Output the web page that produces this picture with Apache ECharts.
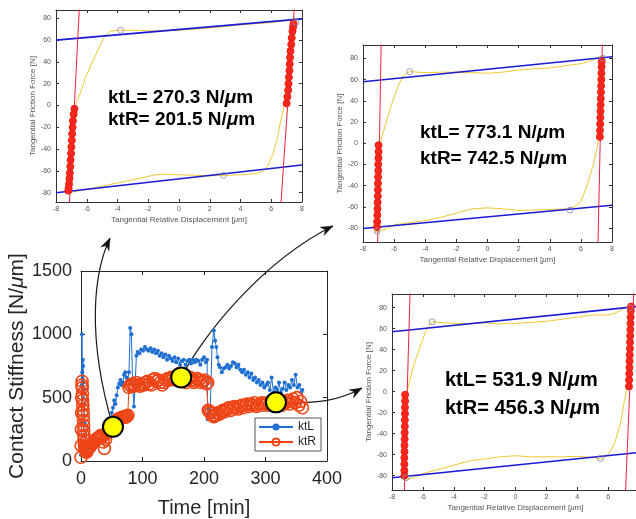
<!DOCTYPE html>
<html><head><meta charset="utf-8">
<script src="https://cdn.jsdelivr.net/npm/echarts@6/dist/echarts.min.js"></script>
<style>html,body{margin:0;padding:0;background:#fff}#c{width:636px;height:519px}</style>
</head><body><div id="c"></div>
<script>
// ---------------- DATA ----------------
const ktL = [[0,50],[0.5,300],[1,600],[1.5,1000],[2,700],[2.5,650],[3,800],[3.5,750],[4,620],[4.5,560],[5,450],[6,300],[7,200],[8,120],[10,100],[12,100],[16,120],[20,140],[24,160],[28,170],[32,180],[36,170],[40,190],[44,230],[48,300],[50,380],[52,420],[54,480],[56,450],[58,520],[60,580],[62,610],[64,640],[66,600],[68,620],[70,680],[72,700],[74,660],[76,640],[78,700],[80,1050],[82,1000],[84,600],[86,430],[88,600],[90,830],[92,860],[95,850],[98,880],[101,870],[104,900],[107,880],[110,870],[113,890],[116,860],[119,880],[122,850],[125,870],[128,830],[131,850],[134,820],[137,840],[140,800],[143,830],[146,810],[149,790],[152,820],[155,780],[158,810],[161,760],[164,790],[167,800],[170,760],[173,790],[176,800],[179,770],[182,800],[185,780],[188,800],[191,790],[194,760],[197,800],[200,820],[203,780],[205,800],[206,330],[208,420],[210,380],[213,900],[216,1030],[218,950],[220,900],[222,820],[224,760],[226,740],[229,700],[232,730],[235,740],[238,760],[241,730],[244,750],[247,780],[250,770],[253,740],[256,760],[259,720],[262,700],[265,720],[268,680],[271,700],[274,660],[277,690],[280,640],[283,660],[286,620],[289,640],[292,600],[295,620],[298,580],[301,600],[304,620],[307,560],[310,660],[313,540],[316,580],[319,560],[322,620],[325,540],[328,570],[331,620],[334,560],[337,600],[340,580],[343,640],[346,600],[349,680],[352,580],[355,600],[358,540],[360,560]];
const ktR = [[0,30],[0.3,120],[0.6,250],[0.9,380],[1.2,500],[1.5,600],[1.8,630],[2.1,580],[2.4,530],[2.7,480],[3,440],[3.3,400],[3.6,360],[3.9,320],[4.2,280],[4.5,240],[4.8,200],[5.1,170],[5.5,140],[6,120],[6.5,100],[7,90],[8,80],[9,70],[10,80],[11,90],[12,100],[14,110],[16,120],[18,140],[20,150],[22,160],[24,170],[26,175],[28,185],[30,190],[32,200],[34,190],[36,150],[38,100],[40,170],[42,220],[44,240],[46,250],[48,260],[50,270],[52,280],[54,290],[56,310],[58,320],[60,330],[62,335],[64,340],[66,340],[68,345],[70,350],[72,345],[74,350],[76,360],[78,580],[80,600],[82,590],[84,610],[86,590],[88,600],[90,620],[93,600],[96,590],[99,610],[102,600],[105,620],[108,630],[111,610],[114,600],[117,640],[120,650],[123,630],[126,640],[129,620],[132,600],[135,620],[138,640],[141,650],[144,640],[147,660],[150,650],[153,640],[156,670],[159,660],[162,650],[165,630],[168,640],[171,620],[174,650],[177,660],[180,640],[183,620],[186,630],[189,650],[192,640],[195,620],[198,630],[201,640],[204,610],[206,620],[207,400],[209,390],[211,380],[213,360],[216,350],[219,360],[222,380],[225,370],[228,390],[231,400],[234,390],[237,410],[240,420],[243,400],[246,420],[249,430],[252,420],[255,410],[258,430],[261,440],[264,420],[267,440],[270,450],[273,430],[276,450],[279,440],[282,460],[285,430],[288,440],[291,450],[294,460],[297,440],[300,450],[303,460],[306,440],[309,470],[312,450],[315,460],[318,470],[321,450],[324,460],[327,440],[330,470],[333,460],[336,480],[339,450],[342,470],[345,490],[348,460],[351,500],[354,440],[357,470],[360,420]];
const yellowPts = [[52,270],[163,660],[317,463]];
const mainXTicks = [0,100,200,300,400];
const mainYTicks = [0,500,1000,1500];
const insetYTicks = [-80,-60,-40,-20,0,20,40,60,80];

// inset 1 (ktL 270.3 / ktR 201.5)
const loop1 = [[-7.2,-80],[-6.8,-79],[-6,-77],[-5,-74],[-4,-71],[-3,-68],[-2,-65],[-1.5,-63.5],[-1,-63],[0,-63.5],[1,-64],[2,-64.5],[3,-64],[4,-63.5],[5,-62.5],[5.5,-60],[5.8,-55],[6.1,-45],[6.4,-30],[6.6,-15],[6.8,-3],[7.0,10],[7.2,35],[7.4,60],[7.5,75],[7.6,80],[7.2,78],[6.5,77],[6,76],[5,75],[4,74],[3,72.5],[2,71],[1,70],[0,69],[-1,68.5],[-2,68.5],[-3,69],[-4,69],[-4.5,68],[-4.9,62],[-5.3,50],[-5.7,38],[-6.1,25],[-6.4,12],[-6.7,2],[-6.85,-5],[-7.0,-30],[-7.1,-55],[-7.2,-78],[-7.2,-80]];
const red1 = [[-6.8,-3],[-6.85,-8],[-6.9,-14],[-6.92,-20],[-6.95,-26],[-6.97,-32],[-7.0,-38],[-7.02,-44],[-7.05,-50],[-7.07,-56],[-7.1,-62],[-7.12,-67],[-7.15,-72],[-7.18,-76],[-7.2,-78],[7.0,2],[7.05,8],[7.1,14],[7.12,20],[7.15,26],[7.18,32],[7.2,38],[7.22,44],[7.25,50],[7.3,56],[7.33,62],[7.38,68],[7.42,72],[7.45,75]];
const blue1 = [[[-8,60],[8,79.5]],[[-8,-80],[8,-54.5]]];
const fit1 = [[[-7.13,-90],[-6.48,90]],[[6.63,-90],[7.5,90]]];
const marks1 = [[-3.8,69],[2.9,-64],[7.6,76]];

// inset 2 (ktL 773.1 / ktR 742.5)
const loop2 = [[-7.2,-84],[-6.5,-81],[-6,-77],[-5,-75],[-4,-73],[-3,-70],[-2,-66],[-1,-62],[0,-61],[1,-62],[2,-63.5],[3,-63],[4,-62.5],[5,-62],[5.6,-60],[6,-55],[6.4,-40],[6.8,-20],[7.1,0],[7.25,10],[7.3,40],[7.35,70],[7.4,80],[7.5,83],[7.0,80],[6.5,77],[6,75],[5,73],[4,71],[3,70],[2,69],[1,67],[0,66],[-1,66.5],[-2,67],[-3,67],[-4,66.5],[-5,67.5],[-5.4,64],[-5.8,52],[-6.2,35],[-6.6,15],[-6.9,0],[-7.0,-10],[-7.05,-40],[-7.1,-70],[-7.2,-84]];
const red2 = [[-7.0,-2],[-7.0,-8],[-7.01,-14],[-7.02,-20],[-7.02,-26],[-7.03,-32],[-7.04,-38],[-7.04,-44],[-7.05,-50],[-7.06,-56],[-7.07,-62],[-7.08,-68],[-7.09,-74],[-7.1,-79],[7.22,6],[7.23,12],[7.24,18],[7.25,24],[7.26,30],[7.27,36],[7.28,42],[7.29,48],[7.3,54],[7.31,60],[7.32,66],[7.33,72],[7.34,77]];
const blue2 = [[[-8,57.9],[8,81.5]],[[-8,-80.5],[8,-58.5]]];
const fit2 = [[[-7.06,-95],[-6.83,95]],[[7.1,-95],[7.38,95]]];
const marks2 = [[-5,67.5],[5.3,-63],[7.4,80],[-7.1,-83]];

// inset 3 (ktL 531.9 / ktR 456.3)
const loop3 = [[-7.2,-85],[-6.5,-81],[-6,-78],[-5,-74],[-4,-70],[-3,-66],[-2,-64],[-1,-62],[0,-61],[1,-62],[2,-62],[3,-62],[4,-61.5],[5,-62.5],[5.5,-64],[6,-60],[6.4,-50],[6.8,-30],[7.1,-5],[7.3,10],[7.35,40],[7.4,70],[7.45,80],[7.5,82],[7.0,79],[6.5,75],[6,73],[5,73],[4,71],[3,69],[2,67],[1,66],[0,65],[-1,64.5],[-2,65.5],[-3,65],[-4,65],[-5,66],[-5.4,66.5],[-5.8,58],[-6.2,42],[-6.6,25],[-6.9,8],[-7.1,-5],[-7.15,-40],[-7.2,-70],[-7.2,-85]];
const red3 = [[-7.15,-3],[-7.15,-9],[-7.16,-15],[-7.16,-21],[-7.17,-27],[-7.17,-33],[-7.18,-39],[-7.18,-45],[-7.19,-51],[-7.19,-57],[-7.2,-63],[-7.2,-69],[-7.2,-75],[-7.2,-80],[7.35,5],[7.36,11],[7.37,17],[7.38,23],[7.39,29],[7.4,35],[7.41,41],[7.42,47],[7.43,53],[7.44,59],[7.45,65],[7.46,71],[7.47,77],[7.48,81]];
const blue3 = [[[-8,57.1],[8,81.3]],[[-8,-81.9],[8,-57.8]]];
const fit3 = [[[-7.2,-95],[-6.83,95]],[[7.13,-95],[7.66,95]]];
const marks3 = [[-5.4,66.5],[5.5,-63.5],[7.4,80],[-7.1,-82]];

const insetTexts = [
  ['ktL= 270.3 N/', 'ktR= 201.5 N/'],
  ['ktL= 773.1 N/', 'ktR= 742.5 N/'],
  ['ktL= 531.9 N/', 'ktR= 456.3 N/']
];

// ---------------- LAYOUT / STYLE ----------------
const FONT = 'Liberation Sans, Arial, sans-serif';
const AX = '#262626';
const IAX = '#555555';
const grids = [
  {left:81, top:271, width:246, height:190, outerBoundsMode:'none', containLabel:false},
  {left:56, top:10, width:246, height:192, outerBoundsMode:'none', containLabel:false},
  {left:363, top:45, width:249, height:197, outerBoundsMode:'none', containLabel:false},
  {left:392, top:294, width:247, height:196, outerBoundsMode:'none', containLabel:false}
];
const insetY = [null, [-88.5, 87.6], [-93.2, 92.6], [-93.6, 93]];
const plain = v => String(v);

const xAxes = [], yAxes = [];
xAxes.push({gridIndex:0,type:'value',min:0,max:400,interval:100,position:'bottom',
  axisLine:{show:true,onZero:false,lineStyle:{color:AX,width:1}},
  axisTick:{show:true,inside:true,length:4,lineStyle:{color:AX},customValues:mainXTicks},
  axisLabel:{fontSize:18,color:AX,margin:9,fontFamily:FONT,customValues:mainXTicks,formatter:plain},
  splitLine:{show:false},
  name:'Time [min]',nameLocation:'middle',nameGap:37,
  nameTextStyle:{fontSize:20,color:AX,fontFamily:FONT}});
xAxes.push({gridIndex:0,type:'value',min:0,max:400,interval:100,position:'top',
  axisLine:{show:true,onZero:false,lineStyle:{color:AX}},
  axisTick:{show:true,inside:true,length:4,lineStyle:{color:AX}},
  axisLabel:{show:false},splitLine:{show:false}});
yAxes.push({gridIndex:0,type:'value',min:0,max:1500,interval:500,position:'left',
  axisLine:{show:true,onZero:false,lineStyle:{color:AX}},
  axisTick:{show:true,inside:true,length:4,lineStyle:{color:AX}},
  axisLabel:{fontSize:18,color:AX,margin:9,fontFamily:FONT,customValues:mainYTicks,formatter:plain},
  splitLine:{show:false},
  name:'Contact Stiffness [N/{i|μ}m]',nameLocation:'middle',nameGap:50,
  nameTextStyle:{fontSize:21,color:AX,fontFamily:FONT,rich:{i:{fontSize:21,fontStyle:'italic',color:AX,fontFamily:FONT}}}});
yAxes.push({gridIndex:0,type:'value',min:0,max:1500,interval:500,position:'right',
  axisLine:{show:true,onZero:false,lineStyle:{color:AX}},
  axisTick:{show:true,inside:true,length:4,lineStyle:{color:AX}},
  axisLabel:{show:false},splitLine:{show:false}});

for (let g = 1; g <= 3; g++) {
  const [ymin, ymax] = insetY[g];
  xAxes.push({gridIndex:g,type:'value',min:-8,max:8,interval:2,position:'bottom',
    axisLine:{show:true,onZero:false,lineStyle:{color:'#333'}},
    axisTick:{show:true,inside:true,length:3,lineStyle:{color:'#333'}},
    axisLabel:{fontSize:7,color:IAX,margin:4,fontFamily:FONT,showMinLabel:true,showMaxLabel:true,formatter:plain},
    splitLine:{show:false},
    name:'Tangential Relative Displacement [{i|μ}m]',nameLocation:'middle',nameGap:14,
    nameTextStyle:{fontSize:8,color:IAX,fontFamily:FONT,rich:{i:{fontSize:8,fontStyle:'italic',color:IAX,fontFamily:FONT}}}});
  xAxes.push({gridIndex:g,type:'value',min:-8,max:8,interval:2,position:'top',
    axisLine:{show:true,onZero:false,lineStyle:{color:'#333'}},
    axisTick:{show:true,inside:true,length:3,lineStyle:{color:'#333'}},
    axisLabel:{show:false},splitLine:{show:false}});
  yAxes.push({gridIndex:g,type:'value',min:ymin,max:ymax,position:'left',
    axisLine:{show:true,onZero:false,lineStyle:{color:'#333'}},
    axisTick:{show:true,inside:true,length:3,lineStyle:{color:'#333'},customValues:insetYTicks},
    axisLabel:{fontSize:7,color:IAX,margin:5,fontFamily:FONT,customValues:insetYTicks,formatter:plain},
    splitLine:{show:false},
    name:'Tangential Friction Force [N]',nameLocation:'middle',nameGap:16,
    nameTextStyle:{fontSize:8,color:IAX,fontFamily:FONT}});
  yAxes.push({gridIndex:g,type:'value',min:ymin,max:ymax,position:'right',
    axisLine:{show:true,onZero:false,lineStyle:{color:'#333'}},
    axisTick:{show:true,inside:true,length:3,lineStyle:{color:'#333'},customValues:insetYTicks},
    axisLabel:{show:false},splitLine:{show:false}});
}

const BLUE = '#1f6fd0', ORANGE = '#ee4415';
const series = [
  {name:'ktL',type:'line',xAxisIndex:0,yAxisIndex:0,data:ktL,
   symbol:'circle',symbolSize:4,showAllSymbol:true,
   lineStyle:{color:BLUE,width:1},itemStyle:{color:BLUE},z:3},
  {name:'ktR',type:'line',xAxisIndex:0,yAxisIndex:0,data:ktR,
   symbol:'circle',symbolSize:12,showAllSymbol:true,
   lineStyle:{color:ORANGE,width:1},
   itemStyle:{color:'rgba(255,255,255,0)',borderColor:ORANGE,borderWidth:1.6},z:4},
  {name:'points',type:'scatter',xAxisIndex:0,yAxisIndex:0,data:yellowPts,
   symbolSize:20,itemStyle:{color:'#ffff00',borderColor:'#000',borderWidth:2,opacity:1},z:10}
];

const insetData = [
  null,
  {loop:loop1, red:red1, blue:blue1, fit:fit1, marks:marks1},
  {loop:loop2, red:red2, blue:blue2, fit:fit2, marks:marks2},
  {loop:loop3, red:red3, blue:blue3, fit:fit3, marks:marks3}
];
for (let g = 1; g <= 3; g++) {
  const d = insetData[g];
  const xi = 2*g, yi = 2*g;
  series.push({type:'line',xAxisIndex:xi,yAxisIndex:yi,data:d.loop,showSymbol:false,
    lineStyle:{color:'#f2c832',width:1},z:2,silent:true});
  d.blue.forEach(seg => series.push({type:'line',xAxisIndex:xi,yAxisIndex:yi,data:seg,showSymbol:false,
    lineStyle:{color:'#1a1ad6',width:1.6},z:3,silent:true}));
  series.push({type:'scatter',xAxisIndex:xi,yAxisIndex:yi,data:d.red,symbol:'circle',symbolSize:7,
    itemStyle:{color:'#ff2a14',borderColor:'#f01a10',borderWidth:1,opacity:1},z:4,silent:true});
  d.fit.forEach(seg => series.push({type:'line',xAxisIndex:xi,yAxisIndex:yi,data:seg,showSymbol:false,
    lineStyle:{color:'#e52040',width:1},z:5,silent:true}));
  series.push({type:'scatter',xAxisIndex:xi,yAxisIndex:yi,data:d.marks,symbol:'circle',symbolSize:6,
    itemStyle:{color:'rgba(255,255,255,0)',borderColor:'#8a86b8',borderWidth:1},z:6,silent:true});
}

const option = {
  animation:false,
  backgroundColor:'#ffffff',
  textStyle:{fontFamily:FONT},
  grid:grids,
  xAxis:xAxes,
  yAxis:yAxes,
  legend:{data:['ktL','ktR'],orient:'vertical',left:255,top:418,
    itemWidth:34,itemHeight:9,itemGap:3,padding:[3,5,3,3],
    backgroundColor:'#fff',borderColor:'#555',borderWidth:1,borderRadius:0,
    textStyle:{fontSize:12,color:AX,fontFamily:FONT}},
  series:series
};

const chart = echarts.init(document.getElementById('c'), null, {renderer:'canvas'});
chart.setOption(option);

// ---------------- ANNOTATIONS (text + arrows) ----------------
const textPos = [[108,98,120,19],[420,133,159,19],[445,380,408,20]];
const graphics = [];
insetTexts.forEach((lines, k) => {
  const [x, y1, y2, fs] = textPos[k];
  [y1, y2].forEach((y, j) => {
    graphics.push({type:'text',x:x,y:y,z:20,
      style:{text:lines[j] + '{i|μ}m',fontSize:fs,fontWeight:'bold',fontFamily:FONT,fill:'#000',
        verticalAlign:'middle',align:'left',
        rich:{i:{fontSize:fs,fontWeight:'bold',fontStyle:'italic',fontFamily:FONT,fill:'#000'}}}});
  });
});

function arrowHead(ex, ey, cx, cy) {
  let dx = ex - cx, dy = ey - cy;
  const len = Math.hypot(dx, dy); dx /= len; dy /= len;
  const L = 12, W = 9;
  const bx = ex - dx*L, by = ey - dy*L;
  const nx = -dy, ny = dx;
  return {type:'polygon',z:8,shape:{points:[[ex,ey],[bx+nx*W/2,by+ny*W/2],[ex-dx*L*0.7,ey-dy*L*0.7],[bx-nx*W/2,by-ny*W/2]]},
    style:{fill:'#111',stroke:'#111',lineWidth:0.5}};
}
const pts = yellowPts.map(p => chart.convertToPixel({xAxisIndex:0,yAxisIndex:0}, p));
const arrows = [
  {s:pts[0], c1:[86,335], c2:[94,272], e:[110,238]},
  {s:pts[1], c1:[200,340], c2:[260,262], e:[333,226]},
  {s:pts[2], c1:[320,404], c2:[340,400], e:[362,388]}
];
arrows.forEach(a => {
  graphics.push({type:'bezierCurve',z:1,shape:{x1:a.s[0],y1:a.s[1],cpx1:a.c1[0],cpy1:a.c1[1],cpx2:a.c2[0],cpy2:a.c2[1],x2:a.e[0],y2:a.e[1]},
    style:{stroke:'#1a1a1a',lineWidth:1.2,fill:null}});
  graphics.push(arrowHead(a.e[0], a.e[1], a.c2[0], a.c2[1]));
});
chart.setOption({graphic:graphics});
</script>
</body></html>
